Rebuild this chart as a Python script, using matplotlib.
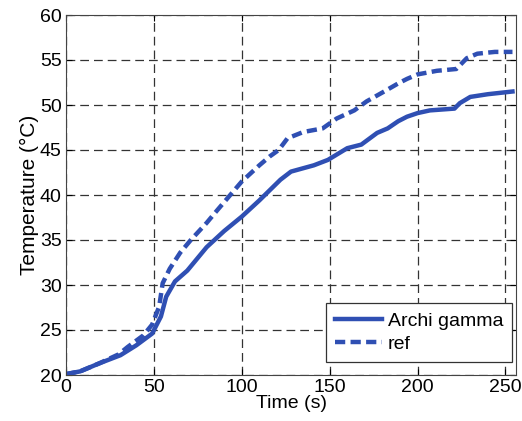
import matplotlib
matplotlib.use("Agg")
import matplotlib.pyplot as plt

plt.rcParams['font.family'] = ['Liberation Sans', 'DejaVu Sans']

# Archi gamma (solid)
t_archi = [0, 8, 19, 31, 40, 49, 54, 57, 62, 69, 80, 90, 100, 110, 122, 128,
           141, 149, 160, 168, 177, 183, 189, 194, 200, 207, 221, 224, 230, 240, 254]
T_archi = [20.1, 20.4, 21.3, 22.2, 23.3, 24.6, 26.5, 28.7, 30.4, 31.6, 34.2, 36.0,
           37.6, 39.4, 41.7, 42.6, 43.3, 43.9, 45.2, 45.6, 46.9, 47.4, 48.2, 48.7,
           49.1, 49.4, 49.6, 50.2, 50.9, 51.2, 51.5]

# ref (dashed)
t_ref = [0, 8, 19, 30, 35, 44, 49, 53, 55, 59, 65, 71, 80, 86, 100, 110, 116, 121,
         126, 135, 146, 154, 164, 171, 181, 189, 194, 200, 211, 222, 228, 234, 244, 254]
T_ref = [20.1, 20.4, 21.3, 22.3, 23.1, 24.4, 25.6, 27.6, 30.2, 31.8, 33.6, 35.0,
         36.9, 38.3, 41.5, 43.3, 44.3, 45.0, 46.3, 47.0, 47.4, 48.5, 49.4, 50.4,
         51.5, 52.4, 52.9, 53.4, 53.8, 54.0, 55.2, 55.7, 55.9, 55.9]

xticks = [0, 50, 100, 150, 200, 250]
yticks = [20, 25, 30, 35, 40, 45, 50, 55, 60]

blue = '#2f4fb3'

fig = plt.figure(figsize=(5.22, 4.21), dpi=100)
ax = fig.add_axes([66 / 522, 46 / 421, 450 / 522, 360 / 421])

ax.plot(t_archi, T_archi, '-', color=blue, linewidth=3.2, label='Archi gamma')
ax.plot(t_ref, T_ref, '--', color=blue, linewidth=3.2, dashes=(2.3, 1.2), label='ref')

ax.set_xlim(0, 256)
ax.set_ylim(20, 60)
ax.set_xticks(xticks)
ax.set_yticks(yticks)
ax.grid(True, color='#333333', linestyle=(0, (7, 4)), linewidth=0.9)
ax.tick_params(direction='in', top=True, right=True, length=4, labelsize=14, pad=3)
for s in ax.spines.values():
    s.set_color('#444444')
    s.set_linewidth(0.8)

ax.set_xlabel('Time (s)', fontsize=14, labelpad=-1)
ax.set_ylabel('Temperature (°C)', fontsize=15, labelpad=1)

leg = ax.legend(loc='lower right', bbox_to_anchor=(0.991, 0.036), borderaxespad=0,
                fontsize=14, fancybox=False, framealpha=1, edgecolor='#333333',
                handlelength=2.4, handletextpad=0.3, labelspacing=0.3,
                borderpad=0.45)
leg.get_frame().set_linewidth(0.9)

fig.savefig('out.png', dpi=100)
